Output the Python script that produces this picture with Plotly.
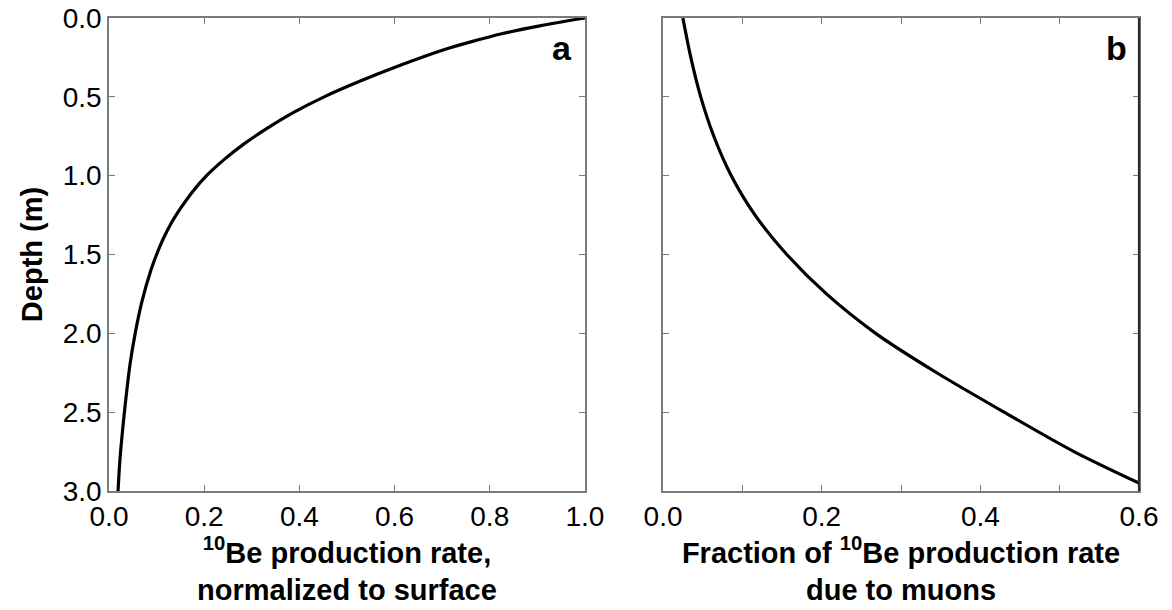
import plotly.graph_objects as go

# Panel a: 10Be production rate normalized to the surface value, vs depth
depth_a = [0.0, 0.05, 0.1, 0.15, 0.2, 0.3, 0.4, 0.5, 0.6, 0.7, 0.8, 0.9, 1.0,
           1.1, 1.2, 1.3, 1.4, 1.5, 1.6, 1.8, 2.0, 2.2, 2.4, 2.6, 2.8, 3.0]
rate_norm = [1.0, 0.905, 0.825, 0.762, 0.705, 0.612, 0.528, 0.452, 0.387,
             0.332, 0.283, 0.241, 0.205, 0.176, 0.152, 0.131, 0.114, 0.1,
             0.088, 0.069, 0.055, 0.044, 0.036, 0.029, 0.023, 0.019]

# Panel b: fraction of the production rate that is due to muons, vs depth
depth_b = [0.0, 0.25, 0.5, 0.75, 1.0, 1.25, 1.5, 1.75, 2.0, 2.25, 2.5, 2.75, 2.95]
muon_frac = [0.025, 0.035, 0.0475, 0.064, 0.086, 0.116, 0.156, 0.206, 0.268,
             0.345, 0.43, 0.518, 0.6]

# Tick values
depth_ticks = [0.0, 0.5, 1.0, 1.5, 2.0, 2.5, 3.0]
xa_ticks = [0.0, 0.2, 0.4, 0.6, 0.8, 1.0]
xb_ticks = [0.0, 0.2, 0.4, 0.6]
xb_minor = [0.1, 0.3, 0.5]

FONT = "Liberation Sans, Arial, Helvetica, sans-serif"
AXIS_GREY = "#7a7a7a"

fig = go.Figure()
fig.add_trace(go.Scatter(x=rate_norm, y=depth_a, mode="lines",
                         line=dict(color="black", width=3.2, shape="spline", smoothing=0.8),
                         xaxis="x", yaxis="y", showlegend=False))
fig.add_trace(go.Scatter(x=muon_frac, y=depth_b, mode="lines",
                         line=dict(color="black", width=3.2, shape="spline", smoothing=0.8),
                         xaxis="x2", yaxis="y2", showlegend=False))

common = dict(showline=True, linecolor=AXIS_GREY, linewidth=1.6, mirror="ticks",
              ticks="inside", ticklen=6, tickwidth=1.4, tickcolor=AXIS_GREY,
              showgrid=False, zeroline=False, automargin=False,
              tickfont=dict(family=FONT, size=28, color="black"))

title_font = dict(family=FONT, size=29, color="black", weight="bold")

fig.update_layout(
    width=1172, height=610,
    margin=dict(l=109, r=33, t=18, b=119),
    paper_bgcolor="white", plot_bgcolor="white",
    xaxis=dict(domain=[0.0, 0.4621], range=[0.0, 1.0], tickvals=xa_ticks,
               tickformat=".1f", anchor="y",
               title=dict(text="<b><sup>10</sup>Be production rate,<br>normalized to surface</b>",
                          font=title_font, standoff=6),
               **common),
    yaxis=dict(domain=[0.0, 1.0], range=[3.0, 0.0], tickvals=depth_ticks,
               tickformat=".1f", anchor="x",
               title=dict(text="<b>Depth (m)</b>", font=title_font, standoff=12),
               **common),
    xaxis2=dict(domain=[0.5379, 1.0], range=[0.0, 0.6], tickvals=xb_ticks,
                tickformat=".1f", anchor="y2",
                minor=dict(tickvals=xb_minor, ticks="inside", ticklen=6,
                           tickwidth=1.4, tickcolor=AXIS_GREY, showgrid=False),
                title=dict(text="<b>Fraction of <sup>10</sup>Be production rate<br>due to muons</b>",
                           font=title_font, standoff=6),
                **common),
    yaxis2=dict(domain=[0.0, 1.0], range=[3.0, 0.0], tickvals=depth_ticks,
                showticklabels=False, anchor="x2", **common),
    annotations=[
        dict(text="<b>a</b>", xref="x", yref="y", x=0.952, y=0.19,
             showarrow=False, xanchor="center", yanchor="middle",
             font=dict(family=FONT, size=34, color="black")),
        dict(text="<b>b</b>", xref="x2", yref="y2", x=0.572, y=0.19,
             showarrow=False, xanchor="center", yanchor="middle",
             font=dict(family=FONT, size=34, color="black")),
    ],
    shapes=[
        # darker right-hand frame edge of panel b
        dict(type="line", xref="x2 domain", yref="y2 domain", x0=1, x1=1, y0=0, y1=1,
             line=dict(color="#2a2a2a", width=2.2)),
    ],
)

fig.write_html("out.html")
